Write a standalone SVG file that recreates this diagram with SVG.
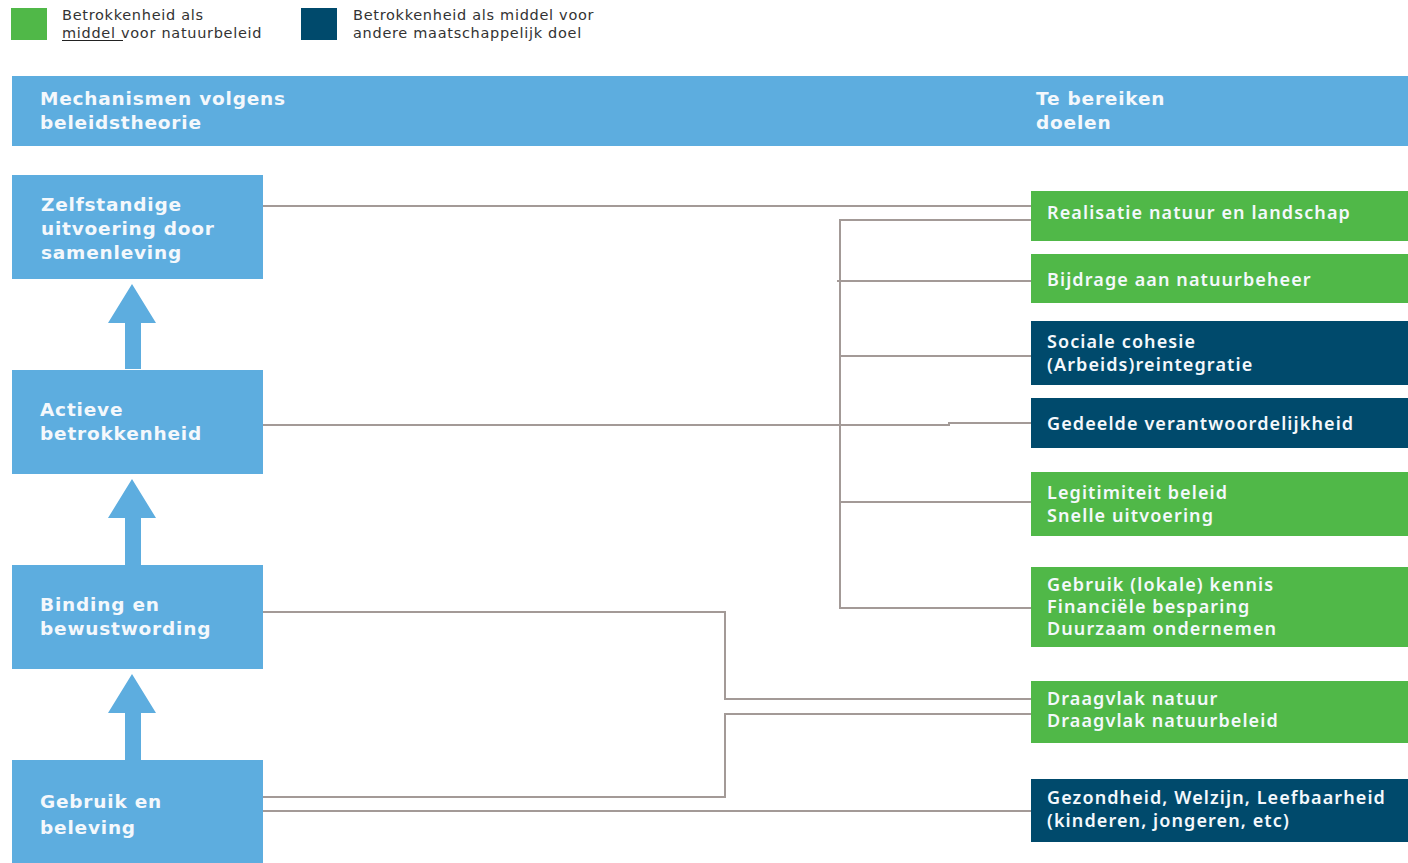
<svg xmlns="http://www.w3.org/2000/svg" width="1408" height="863" viewBox="0 0 1408 863">
<style>
.mech{fill:#5DADDF}
.grn{fill:#50B848}
.dk{fill:#004A6C}
.lt{font-family:"DejaVu Sans",Verdana,sans-serif;font-weight:bold;font-size:18.5px;fill:#F4F8FC;letter-spacing:0.8px}
.rt{font-family:"Noto Sans","Open Sans",sans-serif;font-weight:600;font-size:18px;fill:#F4F8FC;letter-spacing:1.1px}
.lg{font-family:"DejaVu Sans",Verdana,sans-serif;font-size:14.5px;fill:#333333;letter-spacing:0.7px}
.con{fill:none;stroke:#A39A97;stroke-width:2}
</style>
<rect width="1408" height="863" fill="#ffffff"/>
<g id="legend">
<rect x="11" y="8" width="36" height="32" class="grn"/>
<text class="lg" x="62" y="20">Betrokkenheid als</text>
<text class="lg" x="62" y="38">middel voor natuurbeleid</text>
<line x1="62" y1="40.5" x2="123" y2="40.5" stroke="#222" stroke-width="1.2"/>
<rect x="301" y="8" width="36" height="32" class="dk"/>
<text class="lg" x="353" y="20">Betrokkenheid als middel voor</text>
<text class="lg" x="353" y="38">andere maatschappelijk doel</text>
</g>
<g id="header">
<rect x="12" y="76" width="1396" height="70" class="mech"/>
<text class="lt" x="40" y="105">Mechanismen volgens</text>
<text class="lt" x="40" y="129">beleidstheorie</text>
<text class="lt" x="1036" y="105">Te bereiken</text>
<text class="lt" x="1036" y="129">doelen</text>
</g>
<g id="connectors">
<path class="con" d="M263 206H1031"/>
<path class="con" d="M1031 220H840V608H1031"/>
<path class="con" d="M837 281H1031"/>
<path class="con" d="M840 356H1031"/>
<path class="con" d="M840 502H1031"/>
<path class="con" d="M263 425H949V423H1031"/>
<path class="con" d="M263 612H725V699H1031"/>
<path class="con" d="M263 797H725V714H1031"/>
<path class="con" d="M263 811H1031"/>
</g>
<g id="arrows">
<path class="mech" d="M132 284L156 323H141V369H125V323H108Z"/>
<path class="mech" d="M132 479L156 518H141V565H125V518H108Z"/>
<path class="mech" d="M132 674L156 713H141V760H125V713H108Z"/>
</g>
<g id="n-zelfstandig">
<rect x="12" y="175" width="251" height="104" class="mech"/>
<text class="lt" x="41" y="211">Zelfstandige</text>
<text class="lt" x="41" y="235">uitvoering door</text>
<text class="lt" x="41" y="259">samenleving</text>
</g>
<g id="n-actief">
<rect x="12" y="370" width="251" height="104" class="mech"/>
<text class="lt" x="40" y="416">Actieve</text>
<text class="lt" x="40" y="440">betrokkenheid</text>
</g>
<g id="n-binding">
<rect x="12" y="565" width="251" height="104" class="mech"/>
<text class="lt" x="40" y="611">Binding en</text>
<text class="lt" x="40" y="635">bewustwording</text>
</g>
<g id="n-gebruik">
<rect x="12" y="760" width="251" height="103" class="mech"/>
<text class="lt" x="40" y="808">Gebruik en</text>
<text class="lt" x="40" y="834">beleving</text>
</g>
<g id="r-realisatie">
<rect x="1031" y="191" width="377" height="50" class="grn"/>
<text class="rt" x="1047" y="219">Realisatie natuur en landschap</text>
</g>
<g id="r-bijdrage">
<rect x="1031" y="254" width="377" height="49" class="grn"/>
<text class="rt" x="1047" y="286">Bijdrage aan natuurbeheer</text>
</g>
<g id="r-sociaal">
<rect x="1031" y="321" width="377" height="64" class="dk"/>
<text class="rt" x="1047" y="348">Sociale cohesie</text>
<text class="rt" x="1047" y="371">(Arbeids)reintegratie</text>
</g>
<g id="r-gedeeld">
<rect x="1031" y="398" width="377" height="50" class="dk"/>
<text class="rt" x="1047" y="430">Gedeelde verantwoordelijkheid</text>
</g>
<g id="r-legitimiteit">
<rect x="1031" y="472" width="377" height="64" class="grn"/>
<text class="rt" x="1047" y="499">Legitimiteit beleid</text>
<text class="rt" x="1047" y="522">Snelle uitvoering</text>
</g>
<g id="r-kennis">
<rect x="1031" y="567" width="377" height="80" class="grn"/>
<text class="rt" x="1047" y="591">Gebruik (lokale) kennis</text>
<text class="rt" x="1047" y="613">Financiële besparing</text>
<text class="rt" x="1047" y="635">Duurzaam ondernemen</text>
</g>
<g id="r-draagvlak">
<rect x="1031" y="681" width="377" height="62" class="grn"/>
<text class="rt" x="1047" y="705">Draagvlak natuur</text>
<text class="rt" x="1047" y="727">Draagvlak natuurbeleid</text>
</g>
<g id="r-gezondheid">
<rect x="1031" y="779" width="377" height="63" class="dk"/>
<text class="rt" x="1047" y="804">Gezondheid, Welzijn, Leefbaarheid</text>
<text class="rt" x="1047" y="827">(kinderen, jongeren, etc)</text>
</g>
</svg>
